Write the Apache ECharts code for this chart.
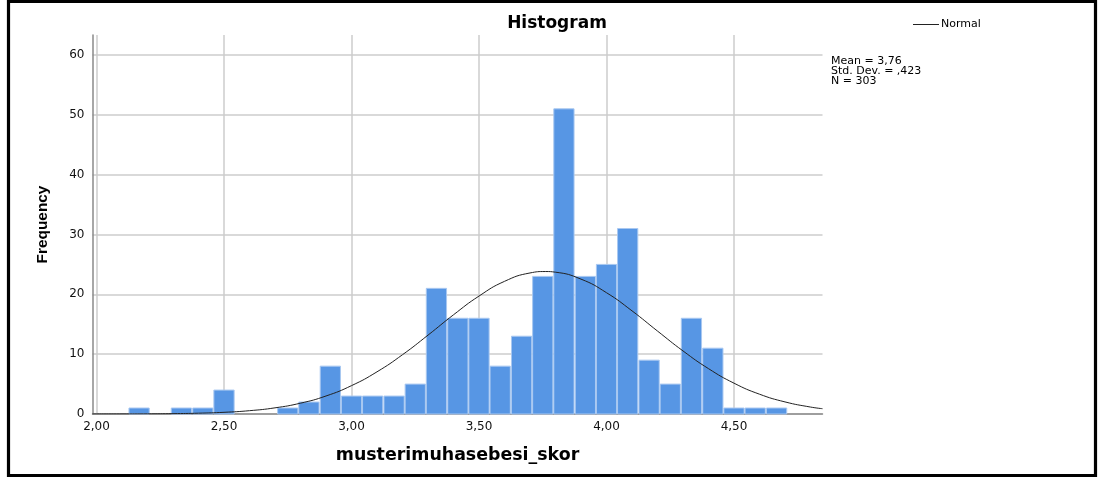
<!DOCTYPE html>
<html>
<head>
<meta charset="utf-8">
<script src="https://cdn.jsdelivr.net/npm/echarts@6/dist/echarts.min.js"></script>
<style>html,body{margin:0;padding:0;background:#fff}#c{width:1099px;height:479px}</style>
</head>
<body>
<div id="c"></div>
<script>
// ---- data ----
const BIN = 1 / 12; // bin width
const binCenters = [2.167,2.25,2.333,2.417,2.5,2.583,2.667,2.75,2.833,2.917,3.0,3.083,3.167,3.25,3.333,3.417,3.5,3.583,3.667,3.75,3.833,3.917,4.0,4.083,4.167,4.25,4.333,4.417,4.5,4.583,4.667];
const frequencies = [1,0,1,1,4,0,0,1,2,8,3,3,3,5,21,16,16,8,13,23,51,23,25,31,9,5,16,11,1,1,1];
const normalX = [1.984,2.1,2.2,2.3,2.4,2.5,2.6,2.7,2.8,2.9,3.0,3.1,3.2,3.3,3.4,3.5,3.6,3.7,3.76,3.8,3.9,4.0,4.1,4.2,4.3,4.4,4.5,4.6,4.7,4.8,4.847];
const normalY = [0.005,0.011,0.027,0.062,0.135,0.282,0.554,1.03,1.81,3.01,4.74,7.05,9.91,13.18,16.58,19.71,22.17,23.57,23.81,23.70,22.54,20.27,17.24,13.86,10.54,7.58,5.15,3.31,2.02,1.16,0.89];
const xTicks = [2.0,2.5,3.0,3.5,4.0,4.5];
const yTicks = [0,10,20,30,40,50,60];
const statsLines = ['Mean = 3,76','Std. Dev. = ,423','N = 303'];

const FONT = 'DejaVu Sans';
const chart = echarts.init(document.getElementById('c'));
const barData = binCenters.map((c, i) => [c, frequencies[i]]);
const lineData = normalX.map((x, i) => [x, normalY[i]]);

const statsGraphics = statsLines.map((t, i) => ({
  type: 'text', x: 831, y: 61 + i * 10,
  style: { text: t, fontFamily: FONT, fontSize: 11, fill: '#000', textVerticalAlign: 'middle' }
}));

chart.setOption({
  animation: false,
  textStyle: { fontFamily: FONT },
  title: {
    text: 'Histogram',
    left: 552, top: 10, textAlign: 'center',
    textStyle: { fontFamily: FONT, fontWeight: 'bold', fontSize: 17, color: '#000' }
  },
  legend: {
    data: [{ name: 'Normal', icon: 'rect' }],
    left: 908, top: 14,
    itemWidth: 26, itemHeight: 1,
    itemStyle: { color: '#222' },
    textStyle: { fontFamily: FONT, fontSize: 11, color: '#000', padding: [0,0,0,-3] }
  },
  grid: { left: 92.5, right: 276.5, top: 35, bottom: 65, containLabel: false },
  xAxis: {
    type: 'value', min: 1.9843, max: 4.847,
    name: 'musterimuhasebesi_skor', nameLocation: 'middle', nameGap: 33,
    nameTextStyle: { fontFamily: FONT, fontWeight: 'bold', fontSize: 17.4, color: '#000' },
    axisLine: { show: true, onZero: false, lineStyle: { color: '#8a8a8a', width: 1.5 } },
    axisTick: { show: false, customValues: xTicks },
    axisLabel: { customValues: xTicks, margin: 7, fontSize: 12, color: '#111',
      formatter: v => v.toFixed(2).replace('.', ',') },
    splitLine: { show: true, lineStyle: { color: '#cdcdcd', width: 1.5 } }
  },
  yAxis: {
    type: 'value', min: 0, max: 63.34,
    name: 'Frequency', nameLocation: 'middle', nameGap: 42, nameRotate: 90,
    nameTextStyle: { fontFamily: 'Liberation Sans', fontWeight: 'bold', fontSize: 15.4, color: '#000' },
    axisLine: { show: true, lineStyle: { color: '#8a8a8a', width: 1.5 } },
    axisTick: { show: false, customValues: yTicks },
    axisLabel: { customValues: yTicks, margin: 8, fontSize: 12, color: '#111' },
    splitLine: { show: true, lineStyle: { color: '#cdcdcd', width: 1.5 } }
  },
  graphic: [
    {
      type: 'rect', silent: true, z: 100,
      shape: { x: 8.5, y: 1.3, width: 1087, height: 474.2 },
      style: { fill: 'none', stroke: '#000', lineWidth: 3.2 }
    }
  ].concat(statsGraphics),
  series: [
    {
      type: 'custom', name: 'bars', z: 2,
      data: barData,
      renderItem: function (params, api) {
        const c = api.value(0), v = api.value(1);
        if (!v) return null;
        const p0 = api.coord([c - BIN / 2, v]);
        const p1 = api.coord([c + BIN / 2, 0]);
        return {
          type: 'rect',
          shape: { x: p0[0] + 0.5, y: p0[1], width: p1[0] - p0[0] - 1, height: p1[1] - p0[1] },
          style: { fill: '#5796e4', stroke: '#a9c8f1', lineWidth: 1 }
        };
      }
    },
    {
      type: 'line', name: 'Normal', z: 3,
      data: lineData, smooth: true, symbol: 'none',
      lineStyle: { color: '#222', width: 1 }
    }
  ]
});
</script>
</body>
</html>
